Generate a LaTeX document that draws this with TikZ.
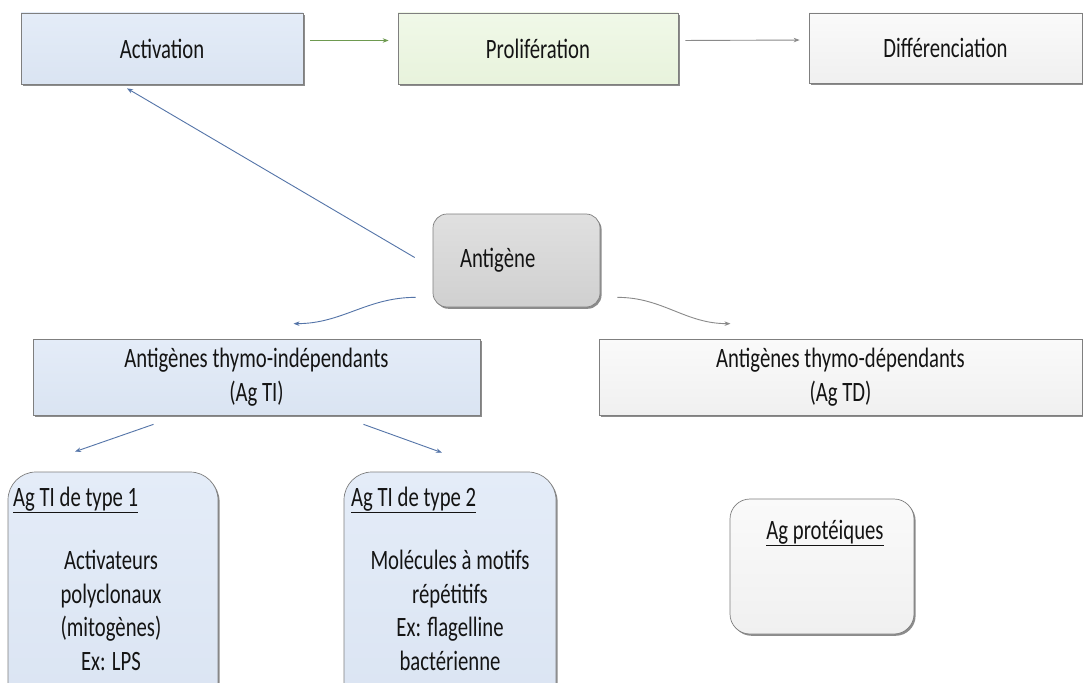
\documentclass[tikz,border=0pt]{standalone}
\usepackage{fontspec}
\setmainfont{Carlito}[FakeStretch=0.74]
\usetikzlibrary{shadows,arrows.meta}

\definecolor{bleu}{HTML}{DAE4F2}
\definecolor{bleuh}{HTML}{E4ECF8}
\definecolor{vertp}{HTML}{E8F3DC}
\definecolor{vertph}{HTML}{F0F8E8}
\definecolor{blanc}{HTML}{FAFAFA}
\definecolor{blancb}{HTML}{F0F0F0}
\definecolor{grisc}{HTML}{E0E0E0}
\definecolor{grisf}{HTML}{D0D0D0}
\definecolor{trait}{HTML}{7F7F7F}
\definecolor{fbleu}{HTML}{5474A8}
\definecolor{fvert}{HTML}{6E9A50}
\definecolor{fgris}{HTML}{8A8A8A}

\begin{document}
\begin{tikzpicture}
  [x=1pt,y=-1pt,
   every node/.style={font=\fontsize{28}{33.5}\selectfont,align=center,text=black!92},
   boite/.style={draw=trait,line width=.7pt,
     drop shadow={shadow xshift=1.6pt,shadow yshift=-1.8pt,fill=black!60,opacity=.75}},
   fleche/.style={-{Stealth[length=6pt,width=4.5pt]},line width=.9pt}]
  \clip (0,0) rectangle (1083,682);
  \fill[white] (0,0) rectangle (1083,682);

  % premiere ligne
  \node[boite,top color=bleuh,bottom color=bleu,minimum width=282,minimum height=71] (1) at (162,48.5) {Activation};
  \node[boite,top color=vertph,bottom color=vertp,minimum width=280,minimum height=71] (2) at (538,48.5) {Prolifération};
  \node[boite,top color=blanc,bottom color=blancb,minimum width=273,minimum height=70] (3) at (945.5,48) {Différenciation};

  % antigene et les deux familles
  \node[boite,rounded corners=14,top color=grisc,bottom color=grisf,minimum width=167,minimum height=93,
        text width=113,inner xsep=27,align=left] (4) at (516.5,260.5) {Antigène};
  \node[boite,top color=bleuh,bottom color=bleu,minimum width=447,minimum height=76] (5) at (256.5,377)
    {Antigènes thymo-indépendants\\(Ag TI)};
  \node[boite,top color=blanc,bottom color=blancb,minimum width=483,minimum height=76] (6) at (840.5,377)
    {Antigènes thymo-dépendants\\(Ag TD)};

  % sous-types
  \node[boite,rounded corners=28,top color=bleuh,bottom color=bleu,minimum width=210,minimum height=248] (7) at (113,596) {};
  \node[boite,rounded corners=28,top color=bleuh,bottom color=bleu,minimum width=212,minimum height=248] (8) at (450,596) {};
  \node[boite,rounded corners=20,top color=blanc,bottom color=blancb,minimum width=184,minimum height=135] (9) at (822,566.5) {};

  \node[anchor=west,inner sep=0] (7a) at (13,500) {\underline{Ag TI de type 1}};
  \node (7b) at (111,610.5) {Activateurs\\polyclonaux\\(mitogènes)\\Ex: LPS};
  \node[anchor=west,inner sep=0] (8a) at (351,500) {\underline{Ag TI de type 2}};
  \node (8b) at (450,610.5) {Molécules à motifs\\répétitifs\\Ex: flagelline\\bactérienne};
  \node (9a) at (825,533) {\underline{Ag protéiques}};

  \foreach \from/\to/\c in {1/2/fvert,2/3/fgris}
    \draw[fleche,\c,shorten <=7pt,shorten >=9pt]
      ([shift={(0,-8)}]\from.east) -- ([shift={(0,-8)}]\to.west);

  \draw[fleche,fbleu] ([shift={(-18,-3)}]4.west) -- ([shift={(-35,4)}]1.south);
  \draw[fleche,fbleu] ([shift={(-17,-10)}]4.south west) to[out=180,in=0] ([shift={(37,-15)}]5.north);
  \draw[fleche,fgris] ([shift={(17,-10)}]4.south east) to[out=0,in=180] ([shift={(-110,-15)}]6.north);
  \draw[fleche,fbleu] ([shift={(-103,9)}]5.south) -- ([shift={(-38,-20)}]7.north);
  \draw[fleche,fbleu] ([shift={(107,9)}]5.south) -- ([shift={(-8,-19)}]8.north);

\end{tikzpicture}
\end{document}
